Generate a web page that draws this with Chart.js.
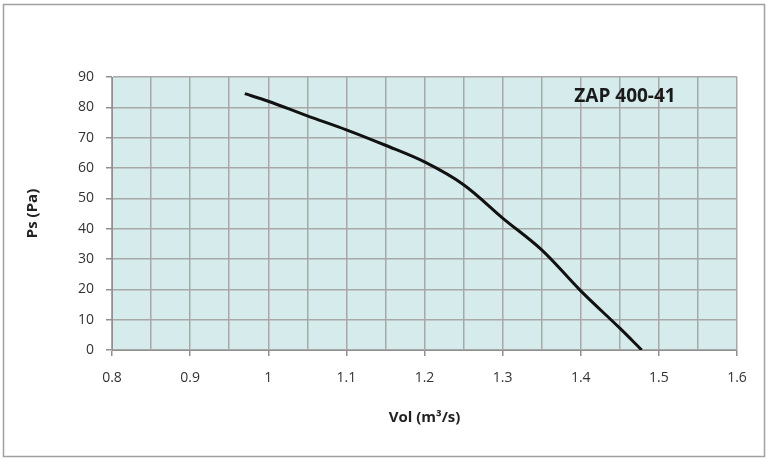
<!DOCTYPE html>
<html>
<head>
<meta charset="utf-8">
<script src="https://cdn.jsdelivr.net/npm/chart.js@4.4.1/dist/chart.umd.min.js"></script>
<style>
  html, body { margin: 0; padding: 0; background: #fff; }
  #wrap { width: 768px; height: 461px; position: relative; }
</style>
</head>
<body>
<div id="wrap"><canvas id="fanChart"></canvas></div>
<script>
// fan curve
const volume = [0.97, 1.0, 1.05, 1.1, 1.15, 1.2, 1.25, 1.3, 1.35, 1.4, 1.45, 1.478];
const pressure = [84.5, 82, 77.2, 72.6, 67.5, 62, 54.5, 43.5, 33, 19.5, 7.2, 0];
const xTicks = [0.8, 0.9, 1, 1.1, 1.2, 1.3, 1.4, 1.5, 1.6];
const yTicks = [0, 10, 20, 30, 40, 50, 60, 70, 80, 90];
const modelName = 'ZAP 400-41';

const points = volume.map((v, i) => ({ x: v, y: pressure[i] }));

const frame = {
  id: 'frame',
  beforeDraw(chart) {
    const ctx = chart.ctx;
    const a = chart.chartArea;
    ctx.save();
    ctx.fillStyle = '#d6ebeb';
    ctx.fillRect(a.left, a.top, a.right - a.left, a.bottom - a.top);
    ctx.strokeStyle = '#a0a0a0';
    ctx.lineWidth = 1.5;
    ctx.strokeRect(3.5, 4.5, 761, 452);
    ctx.restore();
  },
  afterDatasetsDraw(chart) {
    const ctx = chart.ctx;
    const a = chart.chartArea;
    ctx.save();
    ctx.font = 'bold 19px "Open Sans"';
    ctx.fillStyle = '#1a1a1a';
    ctx.textAlign = 'center';
    ctx.textBaseline = 'middle';
    ctx.fillText(modelName, a.left + 513, a.top + 20);
    ctx.restore();
  }
};

new Chart(document.getElementById('fanChart'), {
  type: 'scatter',
  data: {
    datasets: [{
      label: 'Ps',
      data: points,
      showLine: true,
      borderColor: '#111',
      borderWidth: 3,
      pointRadius: 0,
      tension: 0.35,
      fill: false
    }]
  },
  options: {
    responsive: true,
    maintainAspectRatio: false,
    animation: false,
    layout: { padding: { top: 77, left: 20, right: 31, bottom: 30 } },
    plugins: {
      legend: { display: false },
      tooltip: { enabled: false }
    },
    scales: {
      x: {
        type: 'linear',
        min: xTicks[0],
        max: xTicks[xTicks.length - 1],
        border: { color: '#909090', width: 1 },
        grid: {
          color: '#a8a8a8',
          lineWidth: 1.5,
          tickLength: 6,
          tickColor: ctx => (Math.round(ctx.tick.value * 100) % 10 === 0 ? '#909090' : 'rgba(0,0,0,0)')
        },
        ticks: {
          stepSize: 0.05,
          color: '#333',
          padding: 14,
          font: { family: 'Open Sans', size: 14 },
          callback: v => (Math.round(v * 100) % 10 === 0 ? xTicks.find(t => Math.abs(t - v) < 1e-6) : '')
        },
        title: {
          display: true,
          text: 'Vol (m³/s)',
          color: '#222',
          font: { family: 'Open Sans', size: 15, weight: 'bold' },
          padding: { top: 12 }
        },
        afterFit: s => { s.height = 81; }
      },
      y: {
        min: yTicks[0],
        max: yTicks[yTicks.length - 1],
        border: { color: '#909090', width: 1 },
        grid: { color: '#a8a8a8', lineWidth: 1.5, tickLength: 6, tickColor: '#909090' },
        ticks: {
          stepSize: 10,
          color: '#333',
          padding: 12,
          font: { family: 'Open Sans', size: 14 }
        },
        title: {
          display: true,
          text: 'Ps (Pa)',
          color: '#222',
          font: { family: 'Open Sans', size: 15, weight: 'bold' },
          padding: { bottom: 10 }
        },
        afterFit: s => { s.width = 92; }
      }
    }
  },
  plugins: [frame]
});
</script>
</body>
</html>
